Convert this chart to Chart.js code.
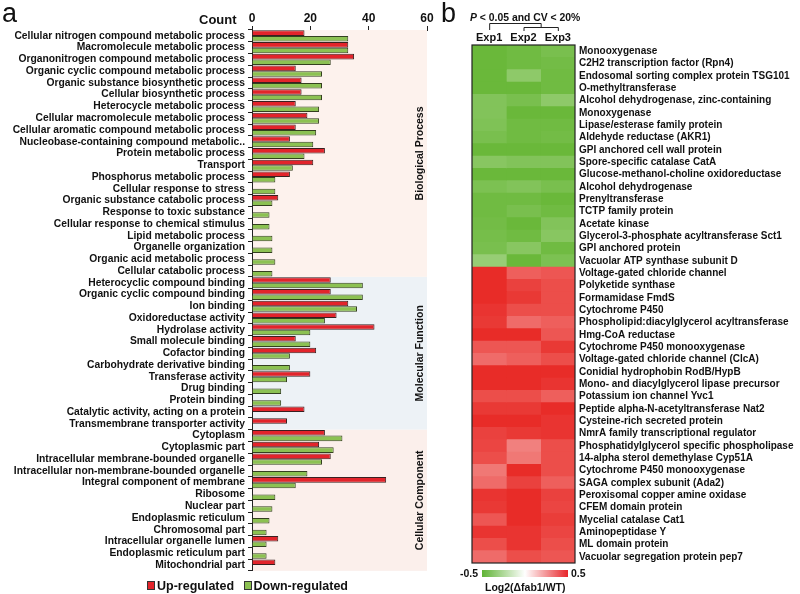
<!DOCTYPE html>
<html>
<head>
<meta charset="utf-8">
<script src="https://cdn.jsdelivr.net/npm/chart.js@4"></script>
<style>
  body { margin: 0; background: #fff; font-family: 'Liberation Sans', Arial, sans-serif; color: #111; }
  #wrap { position: relative; width: 800px; height: 594px; overflow: hidden; }
  .abs { position: absolute; white-space: nowrap; font-weight: bold; }
  .panel { font-size: 27px; font-weight: normal; line-height: 1; }
  .sq { display: inline-block; width: 6px; height: 7px; border: 1px solid #333; vertical-align: 0px; margin-right: 2px; }
</style>
</head>
<body>
<div id="wrap">
  <canvas id="goChart" class="abs" style="left:0;top:0;width:440px;height:580px"></canvas>
  <canvas id="heatChart" class="abs" style="left:440px;top:0;width:360px;height:594px"></canvas>

  <div class="abs panel" style="left:2px;top:0px">a</div>
  <div class="abs" style="left:199px;top:12px;font-size:13px">Count</div>
  <div class="abs" style="left:147px;top:579px;font-size:12.5px">
    <span class="sq" style="background:#e2242b"></span>Up-regulated
    <span class="sq" style="background:#8cc152;margin-left:6px"></span>Down-regulated
  </div>

  <div class="abs panel" style="left:441px;top:0px">b</div>
  <div class="abs" style="left:470px;top:12px;font-size:10.4px"><i>P</i> &lt; 0.05 and CV &lt; 20%</div>
  <div class="abs" style="left:482px;top:570px;width:86px;height:7px;background:linear-gradient(to right,#5fb335,#ffffff 50%,#e8262b)"></div>
  <div class="abs" style="left:460px;top:567px;font-size:10.5px">-0.5</div>
  <div class="abs" style="left:571px;top:567px;font-size:10.5px">0.5</div>
  <div class="abs" style="left:485px;top:581px;font-size:10.5px">Log2(&Delta;fab1/WT)</div>
</div>

<script>
// ---- panel a: GO term counts ----
var goTerms = [
  "Cellular nitrogen compound metabolic process",
  "Macromolecule metabolic process",
  "Organonitrogen compound metabolic process",
  "Organic cyclic compound metabolic process",
  "Organic substance biosynthetic process",
  "Cellular biosynthetic process",
  "Heterocycle metabolic process",
  "Cellular macromolecule metabolic process",
  "Cellular aromatic compound metabolic process",
  "Nucleobase-containing compound metabolic..",
  "Protein metabolic process",
  "Transport",
  "Phosphorus metabolic process",
  "Cellular response to stress",
  "Organic substance catabolic process",
  "Response to toxic substance",
  "Cellular response to chemical stimulus",
  "Lipid metabolic process",
  "Organelle organization",
  "Organic acid metabolic process",
  "Cellular catabolic process",
  "Heterocyclic compound binding",
  "Organic cyclic compound binding",
  "Ion binding",
  "Oxidoreductase activity",
  "Hydrolase activity",
  "Small molecule binding",
  "Cofactor binding",
  "Carbohydrate derivative binding",
  "Transferase activity",
  "Drug binding",
  "Protein binding",
  "Catalytic activity, acting on a protein",
  "Transmembrane transporter activity",
  "Cytoplasm",
  "Cytoplasmic part",
  "Intracellular membrane-bounded organelle",
  "Intracellular non-membrane-bounded organelle",
  "Integral component of membrane",
  "Ribosome",
  "Nuclear part",
  "Endoplasmic reticulum",
  "Chromosomal part",
  "Intracellular organelle lumen",
  "Endoplasmic reticulum part",
  "Mitochondrial part"
];
var upCounts = [18, 33, 35, 15, 17, 17, 15, 19, 15, 13, 25, 21, 13, null, 9, null, null, null, null, null, null,
  27, 27, 33, 29, 42, 15, 22, null, 20, null, null, 18, 12,
  25, 23, 27, null, 46, null, null, null, null, 9, null, 8];
var downCounts = [33, 33, 27, 24, 24, 24, 23, 23, 22, 21, 18, 14, 8, 8, 7, 6, 6, 7, 7, 8, 7,
  38, 38, 36, 25, 20, 20, 13, 13, 12, 10, 10, null, null,
  31, 28, 24, 19, 15, 8, 7, 6, 5, 5, 5, null];
var countTicks = [0, 20, 40, 60];
var groupNames = ["Biological Process", "Molecular Function", "Cellular Component"];
var groupSizes = [21, 13, 12];
var groupColors = ["#fdf2ed", "#edf2f6", "#fbefeb"];

var FONT = "'Liberation Sans', Arial, sans-serif";

var groupPlugin = {
  id: 'groups',
  beforeDatasetsDraw: function (chart) {
    var ctx = chart.ctx, area = chart.chartArea, y = chart.scales.y;
    var half = (y.getPixelForValue(1) - y.getPixelForValue(0)) / 2;
    var start = 0;
    ctx.save();
    groupSizes.forEach(function (n, i) {
      var top = i === 0 ? area.top : y.getPixelForValue(start) - half;
      var bottom = i === groupSizes.length - 1 ? area.bottom : y.getPixelForValue(start + n - 1) + half;
      ctx.fillStyle = groupColors[i];
      ctx.fillRect(area.left + 1, top, area.right - area.left - 1, bottom - top);
      start += n;
    });
    ctx.restore();
  },
  afterDatasetsDraw: function (chart) {
    var ctx = chart.ctx, area = chart.chartArea, y = chart.scales.y;
    var half = (y.getPixelForValue(1) - y.getPixelForValue(0)) / 2;
    var start = 0;
    ctx.save();
    ctx.font = "bold 10.5px " + FONT;
    ctx.fillStyle = "#111";
    ctx.textAlign = "center";
    ctx.textBaseline = "middle";
    groupSizes.forEach(function (n, i) {
      var top = i === 0 ? area.top : y.getPixelForValue(start) - half;
      var bottom = i === groupSizes.length - 1 ? area.bottom : y.getPixelForValue(start + n - 1) + half;
      ctx.save();
      ctx.translate(area.right - 7, (top + bottom) / 2);
      ctx.rotate(-Math.PI / 2);
      ctx.fillText(groupNames[i], 0, 0);
      ctx.restore();
      start += n;
    });
    ctx.restore();
  }
};

new Chart(document.getElementById('goChart'), {
  type: 'bar',
  data: {
    labels: goTerms,
    datasets: [
      { label: 'Up-regulated', data: upCounts, backgroundColor: '#e2242b', borderColor: '#3a2020', borderWidth: 1 },
      { label: 'Down-regulated', data: downCounts, backgroundColor: '#8cc152', borderColor: '#34401f', borderWidth: 1 }
    ]
  },
  options: {
    indexAxis: 'y',
    responsive: false,
    animation: false,
    layout: { padding: { left: 0, right: 13, top: 0, bottom: 5 } },
    datasets: { bar: { categoryPercentage: 0.94, barPercentage: 1 } },
    plugins: { legend: { display: false }, tooltip: { enabled: false } },
    scales: {
      x: {
        position: 'top', min: 0, max: 60,
        afterBuildTicks: function (s) { s.ticks = countTicks.map(function (v) { return { value: v }; }); },
        afterFit: function (s) { s.height = 30; },
        grid: { drawOnChartArea: false, tickLength: 4, color: '#222' },
        border: { color: '#222', width: 1 },
        ticks: { font: { family: FONT, size: 12, weight: 'bold' }, color: '#111', padding: 0 }
      },
      y: {
        afterFit: function (s) { s.width = 252; },
        grid: { drawOnChartArea: false, tickLength: 4, color: '#222' },
        border: { color: '#222', width: 1 },
        ticks: { autoSkip: false, font: { family: FONT, size: 10.3, weight: 'bold' }, color: '#111', padding: 3 }
      }
    }
  },
  plugins: [groupPlugin]
});

// ---- panel b: heatmap of log2 ratios ----
var proteins = [
  "Monooxygenase",
  "C2H2 transcription factor (Rpn4)",
  "Endosomal sorting complex protein TSG101",
  "O-methyltransferase",
  "Alcohol dehydrogenase, zinc-containing",
  "Monoxygenase",
  "Lipase/esterase family protein",
  "Aldehyde reductase (AKR1)",
  "GPI anchored cell wall protein",
  "Spore-specific catalase CatA",
  "Glucose-methanol-choline oxidoreductase",
  "Alcohol dehydrogenase",
  "Prenyltransferase",
  "TCTP family protein",
  "Acetate kinase",
  "Glycerol-3-phosphate acyltransferase Sct1",
  "GPI anchored protein",
  "Vacuolar ATP synthase subunit D",
  "Voltage-gated chloride channel",
  "Polyketide synthase",
  "Formamidase FmdS",
  "Cytochrome P450",
  "Phospholipid:diacylglycerol acyltransferase",
  "Hmg-CoA reductase",
  "Cytochrome P450 monooxygenase",
  "Voltage-gated chloride channel (ClcA)",
  "Conidial hydrophobin RodB/HypB",
  "Mono- and diacylglycerol lipase precursor",
  "Potassium ion channel Yvc1",
  "Peptide alpha-N-acetyltransferase Nat2",
  "Cysteine-rich secreted protein",
  "NmrA family transcriptional regulator",
  "Phosphatidylglycerol specific phospholipase",
  "14-alpha sterol demethylase Cyp51A",
  "Cytochrome P450 monooxygenase",
  "SAGA complex subunit (Ada2)",
  "Peroxisomal copper amine oxidase",
  "CFEM domain protein",
  "Mycelial catalase Cat1",
  "Aminopeptidase Y",
  "ML domain protein",
  "Vacuolar segregation protein pep7"
];
var experiments = ["Exp1", "Exp2", "Exp3"];
var exp1 = [-0.5, -0.5, -0.5, -0.5, -0.42, -0.42, -0.43, -0.45, -0.5, -0.4, -0.5, -0.44, -0.48, -0.48, -0.47, -0.46, -0.45, -0.35,
  0.5, 0.5, 0.5, 0.48, 0.47, 0.5, 0.4, 0.35, 0.5, 0.5, 0.42, 0.47, 0.5, 0.45, 0.44, 0.42, 0.32, 0.35, 0.48, 0.47, 0.4, 0.48, 0.42, 0.35];
var exp2 = [-0.48, -0.48, -0.38, -0.5, -0.45, -0.5, -0.48, -0.48, -0.5, -0.42, -0.5, -0.42, -0.48, -0.45, -0.5, -0.48, -0.4, -0.5,
  0.38, 0.45, 0.47, 0.42, 0.35, 0.5, 0.4, 0.38, 0.5, 0.5, 0.42, 0.47, 0.5, 0.47, 0.3, 0.32, 0.5, 0.45, 0.5, 0.5, 0.5, 0.48, 0.48, 0.42];
var exp3 = [-0.45, -0.47, -0.48, -0.48, -0.38, -0.5, -0.48, -0.47, -0.5, -0.42, -0.5, -0.45, -0.5, -0.48, -0.42, -0.4, -0.48, -0.44,
  0.4, 0.42, 0.42, 0.42, 0.38, 0.4, 0.47, 0.42, 0.5, 0.48, 0.38, 0.5, 0.48, 0.48, 0.42, 0.42, 0.42, 0.38, 0.45, 0.44, 0.46, 0.44, 0.42, 0.4];

function heatColor(v) {
  var t = Math.min(Math.abs(v) / 0.5, 1);
  var end = v < 0 ? [106, 184, 58] : [232, 44, 40];
  var c = end.map(function (e) { return Math.round(255 + (e - 255) * t); });
  return 'rgb(' + c.join(',') + ')';
}

var bracketPlugin = {
  id: 'brackets',
  afterDatasetsDraw: function (chart) {
    var ctx = chart.ctx, area = chart.chartArea, x2 = chart.scales.x2;
    var e1 = x2.getPixelForValue(0), e2 = x2.getPixelForValue(1), e3 = x2.getPixelForValue(2);
    var mid = (e2 + e3) / 2;
    ctx.save();
    ctx.strokeStyle = '#222';
    ctx.lineWidth = 1.2;
    ctx.strokeRect(area.left, area.top, area.right - area.left, area.bottom - area.top);
    ctx.lineWidth = 1;
    ctx.beginPath();
    ctx.moveTo(e1 + 0.5, 30); ctx.lineTo(e1 + 0.5, 23.5); ctx.lineTo(mid + 0.5, 23.5); ctx.lineTo(mid + 0.5, 27.5);
    ctx.moveTo(e2 + 0.5, 31); ctx.lineTo(e2 + 0.5, 27.5); ctx.lineTo(e3 + 0.5, 27.5); ctx.lineTo(e3 + 0.5, 31);
    ctx.stroke();
    ctx.restore();
  }
};

var heatSets = [exp1, exp2, exp3].map(function (vals, i) {
  return {
    label: experiments[i],
    data: vals.map(function () { return 1; }),
    backgroundColor: vals.map(heatColor),
    borderWidth: 0
  };
});

new Chart(document.getElementById('heatChart'), {
  type: 'bar',
  data: { labels: proteins, datasets: heatSets },
  options: {
    indexAxis: 'y',
    responsive: false,
    animation: false,
    layout: { padding: { left: 32, right: 0, top: 0, bottom: 31 } },
    datasets: { bar: { categoryPercentage: 1, barPercentage: 1 } },
    plugins: { legend: { display: false }, tooltip: { enabled: false } },
    scales: {
      x: { stacked: true, min: 0, max: 3, display: false },
      x2: {
        type: 'category', labels: experiments, position: 'top', offset: true,
        afterFit: function (s) { s.height = 45; },
        grid: { display: false, drawTicks: false }, border: { display: false },
        ticks: { font: { family: FONT, size: 11, weight: 'bold' }, color: '#111', padding: 0 }
      },
      y: {
        stacked: true, position: 'right',
        afterFit: function (s) { s.width = 225; },
        grid: { display: false, drawTicks: false }, border: { display: false },
        ticks: { autoSkip: false, font: { family: FONT, size: 10, weight: 'bold' }, color: '#111', padding: 4 }
      }
    }
  },
  plugins: [bracketPlugin]
});
</script>
</body>
</html>
